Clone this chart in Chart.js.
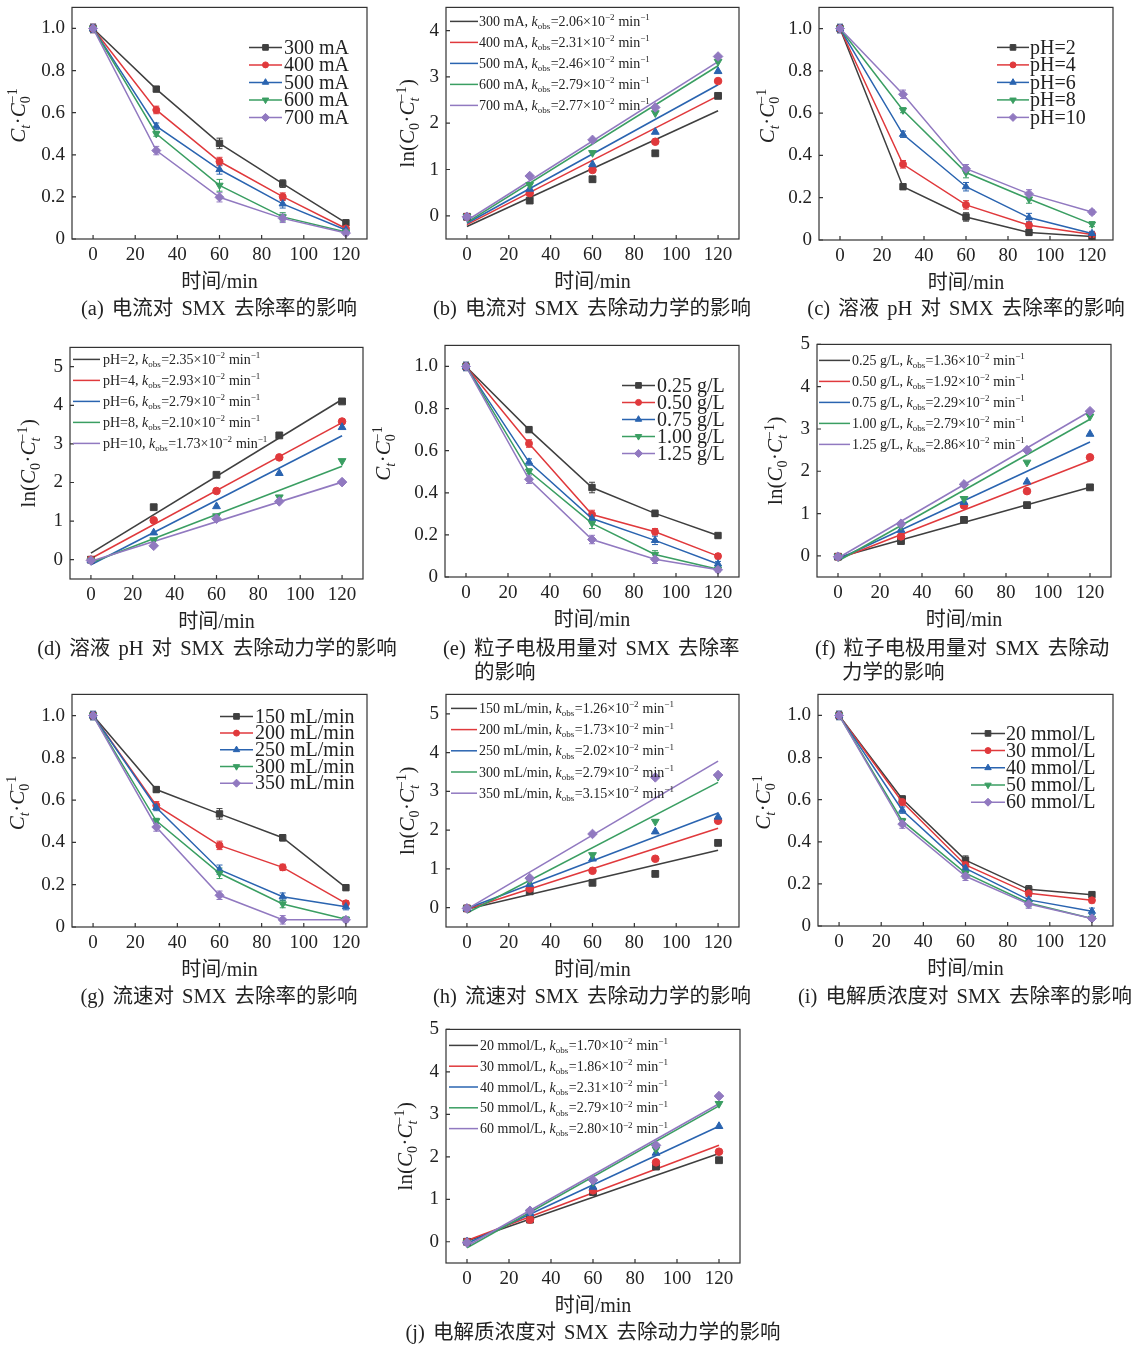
<!DOCTYPE html>
<html><head><meta charset="utf-8">
<script src="https://cdn.jsdelivr.net/npm/chart.js@4.4.1/dist/chart.umd.min.js"></script>
<style>
html,body{margin:0;padding:0;background:#fff;}
#wrap{position:relative;width:1146px;height:1345px;overflow:hidden;background:#fff;}
canvas{position:absolute;}
.cap{position:absolute;font-family:"Liberation Serif","Noto Sans CJK SC",serif;font-size:20.5px;word-spacing:3px;color:#222;white-space:nowrap;line-height:24px;}
</style></head><body><div id="wrap"></div>
<script>
// ---------------- DATA ----------------
const timeMin = [0, 30, 60, 90, 120];
const xTicks = [0, 20, 40, 60, 80, 100, 120];
const ratioTicks = [0, 0.2, 0.4, 0.6, 0.8, 1.0];
const lnTicks4 = [0, 1, 2, 3, 4];
const lnTicks5 = [0, 1, 2, 3, 4, 5];

const currentLabels = ['300 mA', '400 mA', '500 mA', '600 mA', '700 mA'];
const ratioCurrent = [
  [1.00, 0.712, 0.454, 0.263, 0.077],
  [1.00, 0.613, 0.368, 0.201, 0.050],
  [1.00, 0.536, 0.330, 0.167, 0.043],
  [1.00, 0.500, 0.255, 0.105, 0.033],
  [1.00, 0.420, 0.198, 0.098, 0.028]];
const errCurrent = [
  [0.02, 0.012, 0.025, 0.018, 0.012],
  [0.02, 0.018, 0.02, 0.018, 0.01],
  [0.02, 0.015, 0.022, 0.02, 0.01],
  [0.015, 0.012, 0.028, 0.02, 0.01],
  [0.015, 0.02, 0.022, 0.02, 0.01]];
const lnCurrent = [
  [-0.02, 0.33, 0.79, 1.35, 2.59],
  [-0.02, 0.49, 0.99, 1.60, 2.91],
  [-0.02, 0.58, 1.11, 1.81, 3.12],
  [-0.02, 0.67, 1.36, 2.22, 3.33],
  [-0.02, 0.86, 1.64, 2.34, 3.44]];
const fitCurrent = [[-0.23, 2.27], [-0.19, 2.59], [-0.16, 2.83], [-0.14, 3.24], [-0.10, 3.33]];
const kCurrent = ['2.06', '2.31', '2.46', '2.79', '2.77'];

const phLabels = ['pH=2', 'pH=4', 'pH=6', 'pH=8', 'pH=10'];
const ratioPH = [
  [1.00, 0.252, 0.109, 0.036, 0.016],
  [1.00, 0.358, 0.166, 0.070, 0.026],
  [1.00, 0.500, 0.252, 0.106, 0.031],
  [1.00, 0.614, 0.319, 0.194, 0.075],
  [1.00, 0.689, 0.337, 0.218, 0.132]];
const errPH = [
  [0.02, 0.012, 0.02, 0.015, 0.008],
  [0.018, 0.018, 0.02, 0.015, 0.008],
  [0.02, 0.015, 0.02, 0.02, 0.01],
  [0.015, 0.012, 0.025, 0.02, 0.012],
  [0.015, 0.02, 0.02, 0.02, 0.01]];
const lnPH = [
  [0.00, 1.36, 2.20, 3.22, 4.10],
  [0.00, 1.02, 1.78, 2.65, 3.58],
  [-0.02, 0.70, 1.38, 2.24, 3.43],
  [-0.02, 0.51, 1.13, 1.62, 2.56],
  [-0.02, 0.36, 1.06, 1.51, 2.01]];
const fitPH = [[0.17, 4.15], [0.03, 3.55], [-0.13, 3.21], [-0.08, 2.42], [-0.04, 2.01]];
const kPH = ['2.35', '2.93', '2.79', '2.10', '1.73'];

const doseLabels = ['0.25 g/L', '0.50 g/L', '0.75 g/L', '1.00 g/L', '1.25 g/L'];
const ratioDose = [
  [1.00, 0.700, 0.425, 0.302, 0.197],
  [1.00, 0.634, 0.297, 0.215, 0.099],
  [1.00, 0.546, 0.278, 0.174, 0.062],
  [1.00, 0.502, 0.255, 0.107, 0.037],
  [1.00, 0.464, 0.178, 0.084, 0.034]];
const errDose = [
  [0.02, 0.012, 0.025, 0.015, 0.01],
  [0.018, 0.018, 0.02, 0.015, 0.012],
  [0.02, 0.015, 0.02, 0.02, 0.012],
  [0.015, 0.012, 0.025, 0.018, 0.01],
  [0.015, 0.02, 0.02, 0.02, 0.01]];
const lnDose = [
  [-0.02, 0.35, 0.85, 1.20, 1.62],
  [-0.02, 0.46, 1.19, 1.53, 2.33],
  [-0.02, 0.61, 1.27, 1.75, 2.88],
  [-0.02, 0.71, 1.35, 2.21, 3.30],
  [-0.02, 0.76, 1.69, 2.50, 3.42]];
const fitDose = [[-0.04, 1.62], [-0.08, 2.25], [-0.08, 2.69], [-0.12, 3.23], [-0.05, 3.42]];
const kDose = ['1.36', '1.92', '2.29', '2.79', '2.86'];

const flowLabels = ['150 mL/min', '200 mL/min', '250 mL/min', '300 mL/min', '350 mL/min'];
const ratioFlow = [
  [1.00, 0.650, 0.535, 0.422, 0.186],
  [1.00, 0.575, 0.386, 0.282, 0.112],
  [1.00, 0.565, 0.271, 0.143, 0.096],
  [1.00, 0.502, 0.254, 0.109, 0.037],
  [1.00, 0.473, 0.150, 0.034, 0.034]];
const errFlow = [
  [0.02, 0.012, 0.025, 0.015, 0.012],
  [0.018, 0.018, 0.02, 0.015, 0.012],
  [0.02, 0.015, 0.022, 0.018, 0.015],
  [0.015, 0.012, 0.025, 0.018, 0.01],
  [0.015, 0.02, 0.02, 0.02, 0.01]];
const lnFlow = [
  [-0.02, 0.42, 0.64, 0.87, 1.67],
  [-0.02, 0.49, 0.95, 1.26, 2.24],
  [-0.02, 0.60, 1.26, 1.96, 2.34],
  [-0.02, 0.70, 1.36, 2.22, 3.38],
  [-0.02, 0.76, 1.90, 3.36, 3.42]];
const fitFlow = [[-0.04, 1.48], [-0.04, 2.05], [-0.02, 2.44], [-0.14, 3.23], [-0.04, 3.78]];
const kFlow = ['1.26', '1.73', '2.02', '2.79', '3.15'];

const elecLabels = ['20 mmol/L', '30 mmol/L', '40 mmol/L', '50 mmol/L', '60 mmol/L'];
const ratioElec = [
  [1.00, 0.603, 0.313, 0.174, 0.149],
  [1.00, 0.589, 0.290, 0.155, 0.122],
  [1.00, 0.550, 0.274, 0.124, 0.070],
  [1.00, 0.499, 0.251, 0.109, 0.036],
  [1.00, 0.484, 0.236, 0.104, 0.036]];
const errElec = [
  [0.02, 0.015, 0.02, 0.018, 0.01],
  [0.018, 0.018, 0.02, 0.015, 0.012],
  [0.02, 0.015, 0.02, 0.015, 0.015],
  [0.015, 0.012, 0.025, 0.018, 0.01],
  [0.015, 0.02, 0.02, 0.02, 0.01]];
const lnElec = [
  [0.00, 0.52, 1.17, 1.77, 1.92],
  [0.00, 0.52, 1.21, 1.87, 2.12],
  [0.00, 0.67, 1.29, 2.09, 2.72],
  [-0.02, 0.71, 1.41, 2.18, 3.25],
  [-0.02, 0.73, 1.45, 2.27, 3.43]];
const fitElec = [[0.02, 2.08], [0.03, 2.27], [-0.04, 2.72], [-0.14, 3.20], [-0.10, 3.25]];
const kElec = ['1.70', '1.86', '2.31', '2.79', '2.80'];

// ---------------- STYLE ----------------
const SERIF = '"Liberation Serif","Noto Sans CJK SC",serif';
const TXT = '#222';
const COLORS = ['#3f3f3f', '#e0393c', '#2a64b0', '#3a9e62', '#9179c0'];
const STYLES = [
  {s: 'rect', rot: 0, r: 4.5},
  {s: 'circle', rot: 0, r: 3.5},
  {s: 'triangle', rot: 0, r: 4.2},
  {s: 'triangle', rot: 180, r: 4.2},
  {s: 'rectRot', rot: 0, r: 4.5}];
const PADL = 80, PADT = 14, PADR = 14, PADB = 60;

const panels = [
  {id: 'a', kind: 'ratio', box: [72, 3, 367, 239], data: ratioCurrent, err: errCurrent, labels: currentLabels,
    leg: {x0: 177, x1: 210, tx: 212, y0: 40, dy: 17.5}, tdx: -54,
    caps: [{t: '(a) 电流对 SMX 去除率的影响', cx: 219, y: 308}]},
  {id: 'b', kind: 'ln', box: [446, 3, 739, 239], ymin: -0.5, ymax: 4.5, yt: lnTicks4, data: lnCurrent, fit: fitCurrent, k: kCurrent, labels: currentLabels,
    leg: {x0: 4, x1: 32, tx: 33, y0: 14, dy: 21}, tdx: -39,
    caps: [{t: '(b) 电流对 SMX 去除动力学的影响', cx: 592, y: 308}]},
  {id: 'c', kind: 'ratio', box: [819, 3, 1113, 240], data: ratioPH, err: errPH, labels: phLabels,
    leg: {x0: 178, x1: 210, tx: 211, y0: 40, dy: 17.5}, tdx: -52,
    caps: [{t: '(c) 溶液 pH 对 SMX 去除率的影响', cx: 966, y: 308}]},
  {id: 'd', kind: 'ln', box: [70, 343, 363, 579], ymin: -0.5, ymax: 5.5, yt: lnTicks5, data: lnPH, fit: fitPH, k: kPH, labels: phLabels,
    leg: {x0: 3, x1: 30, tx: 33, y0: 12, dy: 21}, tdx: -42,
    caps: [{t: '(d) 溶液 pH 对 SMX 去除动力学的影响', cx: 217, y: 648}]},
  {id: 'e', kind: 'ratio', box: [445, 341, 739, 577], data: ratioDose, err: errDose, labels: doseLabels,
    leg: {x0: 177, x1: 210, tx: 212, y0: 40, dy: 17}, tdx: -62,
    caps: [{t: '(e) 粒子电极用量对 SMX 去除率', lx: 443, y: 648}, {t: '的影响', lx: 474, y: 672}]},
  {id: 'f', kind: 'ln', box: [817, 340, 1111, 577], ymin: -0.5, ymax: 5, yt: lnTicks5, data: lnDose, fit: fitDose, k: kDose, labels: doseLabels,
    leg: {x0: 2, x1: 33, tx: 35, y0: 16, dy: 21}, tdx: -42,
    caps: [{t: '(f) 粒子电极用量对 SMX 去除动', lx: 815, y: 648}, {t: '力学的影响', lx: 842, y: 672}]},
  {id: 'g', kind: 'ratio', box: [72, 690, 367, 927], data: ratioFlow, err: errFlow, labels: flowLabels,
    leg: {x0: 148, x1: 181, tx: 183, y0: 22, dy: 16.7}, tdx: -55,
    caps: [{t: '(g) 流速对 SMX 去除率的影响', cx: 219, y: 996}]},
  {id: 'h', kind: 'ln', box: [446, 690, 739, 927], ymin: -0.5, ymax: 5.5, yt: lnTicks5, data: lnFlow, fit: fitFlow, k: kFlow, labels: flowLabels,
    leg: {x0: 5, x1: 31, tx: 33, y0: 14, dy: 21.2}, tdx: -39,
    caps: [{t: '(h) 流速对 SMX 去除动力学的影响', cx: 592, y: 996}]},
  {id: 'i', kind: 'ratio', box: [818, 690, 1113, 926], data: ratioElec, err: errElec, labels: elecLabels,
    leg: {x0: 153, x1: 187, tx: 188, y0: 39, dy: 17.2}, tdx: -55,
    caps: [{t: '(i) 电解质浓度对 SMX 去除率的影响', cx: 965, y: 996}]},
  {id: 'j', kind: 'ln', box: [446, 1025, 740, 1263], ymin: -0.5, ymax: 5, yt: lnTicks5, data: lnElec, fit: fitElec, k: kElec, labels: elecLabels,
    leg: {x0: 3, x1: 32, tx: 34, y0: 16, dy: 20.8}, tdx: -41,
    caps: [{t: '(j) 电解质浓度对 SMX 去除动力学的影响', cx: 593, y: 1332}]}
];
const PANEL_MAP = {};

// ---------------- RICH TEXT ----------------
function rich(ctx, segs, x, y, base, draw) {
  let cx = x; const small = Math.round(base * 0.65);
  for (const s of segs) {
    if (s.t !== undefined) {
      ctx.font = (s.i ? 'italic ' : '') + base + 'px ' + SERIF;
      if (draw) ctx.fillText(s.t, cx, y);
      cx += ctx.measureText(s.t).width;
    } else {
      let w = 0;
      if (s.sub !== undefined) {
        ctx.font = (s.subI ? 'italic ' : '') + small + 'px ' + SERIF;
        if (draw) ctx.fillText(s.sub, cx, y + base * 0.22);
        w = Math.max(w, ctx.measureText(s.sub).width);
      }
      if (s.sup !== undefined) {
        ctx.font = small + 'px ' + SERIF;
        if (draw) ctx.fillText(s.sup, cx, y - base * 0.4);
        w = Math.max(w, ctx.measureText(s.sup).width);
      }
      cx += w + base * 0.03;
    }
  }
  return cx - x;
}
const RATIO_TITLE = [{t: 'C', i: 1}, {sub: 't', subI: 1}, {t: '·'}, {t: 'C', i: 1}, {sub: '0', sup: '−1'}];
const LN_TITLE = [{t: 'ln('}, {t: 'C', i: 1}, {sub: '0'}, {t: '·'}, {t: 'C', i: 1}, {sub: 't', subI: 1, sup: '−1'}, {t: ')'}];
const kinSegs = (label, k) => [{t: label + ', '}, {t: 'k', i: 1}, {sub: 'obs'}, {t: '=' + k + '×10'}, {sup: '−2'}, {t: ' min'}, {sup: '−1'}];

// ---------------- PLUGIN ----------------
const deco = {
  id: 'deco',
  beforeDatasetsDraw(chart) {
    const p = PANEL_MAP[chart.canvas.id];
    if (!p || !p.err) return;
    const ctx = chart.ctx, xs = chart.scales.x, ys = chart.scales.y;
    ctx.save();
    ctx.lineWidth = 1;
    p.data.forEach((row, i) => {
      ctx.strokeStyle = COLORS[i];
      ctx.beginPath();
      row.forEach((v, j) => {
        const e = p.err[i][j];
        const px = xs.getPixelForValue(timeMin[j]);
        const y1 = ys.getPixelForValue(v + e), y2 = ys.getPixelForValue(v - e);
        ctx.moveTo(px, y1); ctx.lineTo(px, y2);
        ctx.moveTo(px - 3, y1); ctx.lineTo(px + 3, y1);
        ctx.moveTo(px - 3, y2); ctx.lineTo(px + 3, y2);
      });
      ctx.stroke();
    });
    ctx.restore();
  },
  afterDraw(chart) {
    const p = PANEL_MAP[chart.canvas.id];
    if (!p) return;
    const ctx = chart.ctx, ca = chart.chartArea, xs = chart.scales.x, ys = chart.scales.y;
    ctx.save();
    // frame
    ctx.strokeStyle = '#333'; ctx.lineWidth = 1.2;
    ctx.strokeRect(ca.left, ca.top, ca.right - ca.left, ca.bottom - ca.top);
    // inward ticks
    ctx.beginPath();
    xTicks.forEach(v => { const px = xs.getPixelForValue(v); ctx.moveTo(px, ca.bottom); ctx.lineTo(px, ca.bottom - 4); });
    const yt = p.kind === 'ratio' ? ratioTicks : p.yt;
    yt.forEach(v => { const py = ys.getPixelForValue(v); ctx.moveTo(ca.left, py); ctx.lineTo(ca.left + 4, py); });
    ctx.stroke();
    // x title
    ctx.fillStyle = TXT; ctx.font = '20px ' + SERIF; ctx.textAlign = 'center'; ctx.textBaseline = 'middle';
    ctx.fillText('时间/min', (ca.left + ca.right) / 2, ca.bottom + 44);
    // y title
    ctx.textAlign = 'left'; ctx.textBaseline = 'alphabetic';
    const segs = p.kind === 'ratio' ? RATIO_TITLE : LN_TITLE;
    const base = 21;
    ctx.save();
    ctx.translate(ca.left + p.tdx, (ca.top + ca.bottom) / 2 + (p.kind === 'ratio' ? -8 : 0));
    ctx.rotate(-Math.PI / 2);
    const w = rich(ctx, segs, 0, 0, base, false);
    rich(ctx, segs, -w / 2, base * 0.33, base, true);
    ctx.restore();
    // legend
    const L = p.leg;
    p.labels.forEach((lab, i) => {
      const y = ca.top + L.y0 + i * L.dy;
      ctx.strokeStyle = COLORS[i]; ctx.fillStyle = COLORS[i];
      ctx.lineWidth = 1.5;
      ctx.beginPath(); ctx.moveTo(ca.left + L.x0, y); ctx.lineTo(ca.left + L.x1, y); ctx.stroke();
      if (p.kind === 'ratio') {
        const st = STYLES[i];
        ctx.lineWidth = 1;
        Chart.helpers.drawPoint(ctx, {pointStyle: st.s, rotation: st.rot, radius: st.r - 0.5, borderWidth: 1}, ca.left + (L.x0 + L.x1) / 2, y);
        ctx.fillStyle = TXT; ctx.font = '20px ' + SERIF; ctx.textAlign = 'left'; ctx.textBaseline = 'middle';
        ctx.fillText(lab, ca.left + L.tx, y + 1);
      } else {
        ctx.fillStyle = TXT; ctx.textAlign = 'left'; ctx.textBaseline = 'alphabetic';
        rich(ctx, kinSegs(lab, p.k[i]), ca.left + L.tx, y + 14 * 0.33, 14, true);
      }
    });
    ctx.restore();
  }
};

// ---------------- BUILD ----------------
const wrap = document.getElementById('wrap');
panels.forEach(p => {
  PANEL_MAP['cv_' + p.id] = p;
  const [L, T, R, B] = p.box;
  const cv = document.createElement('canvas');
  cv.id = 'cv_' + p.id;
  const W = R - L + PADL + PADR, H = B - T + PADT + PADB;
  cv.width = W; cv.height = H;
  cv.style.left = (L - PADL) + 'px'; cv.style.top = (T - PADT) + 'px';
  cv.style.width = W + 'px'; cv.style.height = H + 'px';
  wrap.appendChild(cv);

  const datasets = [];
  if (p.kind === 'ratio') {
    p.data.forEach((row, i) => {
      const st = STYLES[i];
      datasets.push({
        type: 'line', label: p.labels[i],
        data: timeMin.map((t, j) => ({x: t, y: row[j]})),
        borderColor: COLORS[i], backgroundColor: COLORS[i], borderWidth: 1.5,
        pointStyle: st.s, pointRotation: st.rot, pointRadius: st.r, pointBorderWidth: 1,
        tension: 0, order: 5 - i
      });
    });
  } else {
    p.data.forEach((row, i) => {
      const st = STYLES[i];
      datasets.push({
        type: 'scatter', label: p.labels[i],
        data: timeMin.map((t, j) => ({x: t, y: row[j]})),
        borderColor: COLORS[i], backgroundColor: COLORS[i], showLine: false,
        pointStyle: st.s, pointRotation: st.rot, pointRadius: st.r + 0.3, pointBorderWidth: 1,
        order: 5 - i
      });
    });
    p.fit.forEach((f, i) => {
      datasets.push({
        type: 'line', label: p.labels[i] + ' fit',
        data: [{x: timeMin[0], y: f[0]}, {x: timeMin[timeMin.length - 1], y: f[1]}],
        borderColor: COLORS[i], borderWidth: 1.6, pointRadius: 0, tension: 0, order: 20 - i
      });
    });
  }
  const yt = p.kind === 'ratio' ? ratioTicks : p.yt;
  new Chart(cv.getContext('2d'), {
    data: {datasets},
    plugins: [deco],
    options: {
      responsive: false, animation: false, devicePixelRatio: 1,
      layout: {padding: {left: 0, top: PADT, right: PADR, bottom: 0}},
      plugins: {legend: {display: false}, tooltip: {enabled: false}},
      scales: {
        x: {
          type: 'linear', min: -10, max: 130,
          afterBuildTicks: s => { s.ticks = xTicks.map(v => ({value: v})); },
          afterFit: s => { s.height = PADB; },
          grid: {display: false, drawTicks: false}, border: {display: false},
          ticks: {padding: 5, color: TXT, font: {family: SERIF, size: 19}, maxRotation: 0, autoSkip: false, callback: v => String(v)}
        },
        y: {
          type: 'linear', min: p.kind === 'ratio' ? 0 : p.ymin, max: p.kind === 'ratio' ? 1.1 : p.ymax,
          afterBuildTicks: s => { s.ticks = yt.map(v => ({value: v})); },
          afterFit: s => { s.width = PADL; },
          grid: {display: false, drawTicks: false}, border: {display: false},
          ticks: {padding: 7, color: TXT, font: {family: SERIF, size: 19}, autoSkip: false,
            callback: v => p.kind === 'ratio' ? (v === 0 ? '0' : v.toFixed(1)) : String(v)}
        }
      }
    }
  });
  p.caps.forEach(c => {
    const d = document.createElement('div');
    d.className = 'cap';
    d.textContent = c.t;
    d.style.top = (c.y - 12) + 'px';
    if (c.cx !== undefined) { d.style.left = (c.cx - 250) + 'px'; d.style.width = '500px'; d.style.textAlign = 'center'; }
    else { d.style.left = c.lx + 'px'; }
    wrap.appendChild(d);
  });
});
</script>
</body></html>
